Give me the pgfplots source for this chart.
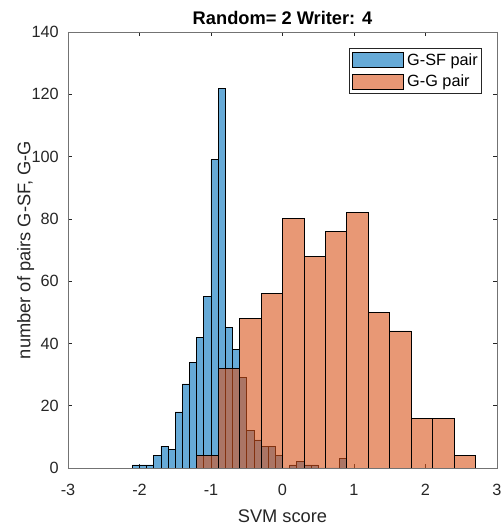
\documentclass[border=0pt]{standalone}
\usepackage{pgfplots}
\pgfplotsset{compat=1.18}
\usepackage{fontspec}
\setmainfont{Liberation Sans}

\definecolor{sfblue}{rgb}{0,0.447,0.741}
\definecolor{ggorange}{rgb}{0.85,0.325,0.098}
\definecolor{axgray}{rgb}{0.15,0.15,0.15}

\begin{document}
\begin{tikzpicture}
\begin{axis}[
  name=ax,
  scale only axis,
  width=321.75pt, height=327pt,
  xmin=-3, xmax=3, ymin=0, ymax=140,
  xtick={-3,-2,-1,0,1,2,3},
  ytick={0,20,40,60,80,100,120,140},
  tick align=inside,
  xtick pos=both, ytick pos=both,
  major tick length=3.3pt,
  axis line style={draw=black!55, line width=0.6pt},
  every tick/.style={draw=axgray, line width=0.5pt},
  /pgf/number format/assume math mode=true,
  tick label style={font=\fontsize{12.2}{14}\selectfont, text=axgray, inner sep=0pt},
  xticklabel style={anchor=base, yshift=-20.25pt},
  yticklabel style={anchor=east, xshift=-6.75pt},
  xlabel={SVM score},
  xlabel style={at={(axis description cs:0.5,-0.1239)}, anchor=base, inner sep=0pt,
                font=\fontsize{13.7}{16}\selectfont, text=axgray},
  ylabel={number of pairs G-SF, G-G},
  ylabel style={at={(axis description cs:-0.0878,0.5)}, anchor=base, inner sep=0pt,
                font=\fontsize{13.7}{16}\selectfont, text=axgray},
  legend image code/.code={\draw[#1] (0pt,-5.6pt) rectangle (38pt,5.6pt);},
  legend style={at={(axis description cs:0.9643,0.9627)}, anchor=north east,
                draw=axgray, line width=0.5pt, fill=white,
                font=\fontsize{12.2}{14}\selectfont,
                inner xsep=2.2pt, inner ysep=2.8pt, row sep=4.4pt,
                nodes={inner sep=0.5pt},
                /tikz/every odd column/.append style={column sep=2.2pt}},
  legend cell align=left,
]
% genuine-vs-skilled-forgery pair scores, bin width 0.1
\addplot[ybar interval, fill=sfblue, fill opacity=0.6, draw=black, line width=0.55pt]
coordinates {
  (-2.1,1) (-2.0,1) (-1.9,1) (-1.8,4) (-1.7,7) (-1.6,6) (-1.5,18) (-1.4,27)
  (-1.3,34) (-1.2,42) (-1.1,55) (-1.0,99) (-0.9,122) (-0.8,45) (-0.7,38)
  (-0.6,29) (-0.5,12) (-0.4,9) (-0.3,7) (-0.2,7) (-0.1,4) (0.0,0) (0.1,1)
  (0.2,2) (0.3,1) (0.4,1) (0.5,0) (0.6,0) (0.7,0) (0.8,3) (0.9,0)
};
\addlegendentry{G-SF pair}
% genuine-vs-genuine pair scores, bin width 0.3
\addplot[ybar interval, fill=ggorange, fill opacity=0.6, draw=black, line width=0.55pt]
coordinates {
  (-1.2,4) (-0.9,32) (-0.6,48) (-0.3,56) (0.0,80) (0.3,68) (0.6,76)
  (0.9,82) (1.2,50) (1.5,44) (1.8,16) (2.1,16) (2.4,4) (2.7,0)
};
\addlegendentry{G-G pair}
\end{axis}
% title, centred over the axis box
\node[anchor=base, inner sep=0pt, font=\fontsize{13.7}{16}\selectfont\bfseries]
  at ([yshift=5.25pt]ax.north) {Random= 2 Writer: 4};
\pgfresetboundingbox
\path[use as bounding box] ([shift={(-51pt,-45pt)}]ax.south west) rectangle ([shift={(4.5pt,24pt)}]ax.north east);
\end{tikzpicture}
\end{document}
